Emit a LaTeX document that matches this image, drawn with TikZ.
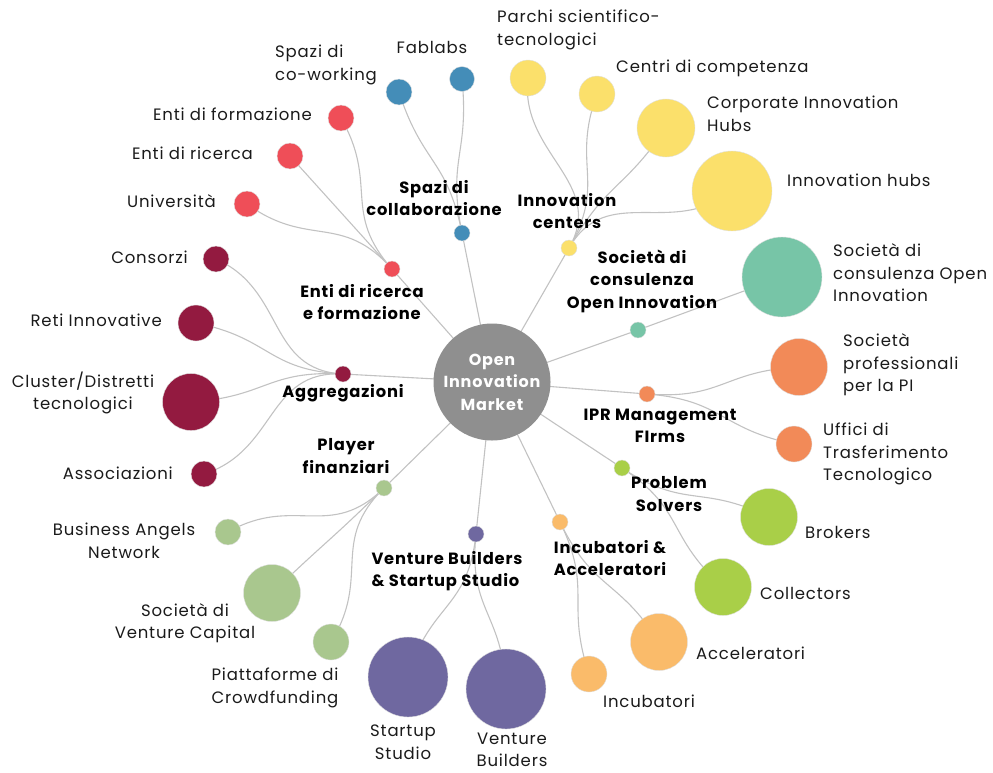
\documentclass[tikz,border=0pt]{standalone}
\usepackage{fontspec}
\setmainfont{Poppins}[LetterSpace=5]
\usetikzlibrary{calc}
\pgfdeclarelayer{bg}
\pgfsetlayers{bg,main}
\definecolor{cblue}{HTML}{448DB8}
\definecolor{cyellow}{HTML}{FBE06B}
\definecolor{cred}{HTML}{EF4E58}
\definecolor{cdred}{HTML}{931A40}
\definecolor{cteal}{HTML}{77C5A7}
\definecolor{corange}{HTML}{F28A58}
\definecolor{cgreen}{HTML}{A9CF48}
\definecolor{clorange}{HTML}{FABB6A}
\definecolor{cpurple}{HTML}{6F68A0}
\definecolor{clgreen}{HTML}{A9C78E}
\definecolor{cgray}{HTML}{8F8F8F}
\definecolor{ctext}{HTML}{1A1A1A}
\tikzset{
  dot/.style={circle, inner sep=0pt, minimum size=#1pt, draw=black!12, line width=0.4pt},
  lbl/.style={font=\fontsize{16.5}{22.5}\selectfont, inner sep=0pt, text=ctext},
  hlbl/.style={font=\bfseries\fontsize{16.3}{22.5}\selectfont, inner sep=0pt, text=black, align=center},
  link/.style={draw=black!24, line width=1.1pt}
}
\newcommand\lnk[2]{%
  \path[link] let \p1=($(#1.center)-(C.center)$), \p2=($(#2.center)-(C.center)$),
    \n1={veclen(\x1,\y1)}, \n2={veclen(\x2,\y2)},
    \n3={scalar((\n1+\n2)/(2*\n1))}, \n4={scalar((\n1+\n2)/(2*\n2))} in
    (#1.center) .. controls ($(C.center)!\n3!(#1.center)$) and ($(C.center)!\n4!(#2.center)$) .. (#2.center);}
\newcommand\spk[1]{\path[link] (C.center) -- (#1.center);}
\begin{document}
\begin{tikzpicture}[x=1pt,y=-1pt]
\useasboundingbox (0,0) rectangle (993,772);
% centre
\node[circle, fill=cgray, minimum size=117pt, inner sep=0pt, text=white, align=center,
  font=\bfseries\fontsize{16}{22.5}\selectfont] (C) at (492,382) {Open\\Innovation\\Market};
% hubs
\node[dot=16, fill=cblue] (hSpazi) at (462,233) {};
\node[dot=16, fill=cyellow] (hInnov) at (569,248) {};
\node[dot=16, fill=cred] (hEnti) at (392,269) {};
\node[dot=16, fill=cteal] (hCons) at (638,330) {};
\node[dot=16, fill=corange] (hIPR) at (647,394) {};
\node[dot=16, fill=cdred] (hAggr) at (343,374) {};
\node[dot=16, fill=clgreen] (hPlayer) at (384,488) {};
\node[dot=16, fill=cgreen] (hProb) at (622,468) {};
\node[dot=16, fill=clorange] (hIncub) at (560,522) {};
\node[dot=16, fill=cpurple] (hVB) at (476,534) {};
% leaves
\node[dot=26, fill=cblue] (lCowork) at (399,92) {};
\node[dot=25, fill=cblue] (lFab) at (462,79) {};
\node[dot=36, fill=cyellow] (lParchi) at (528,78) {};
\node[dot=36, fill=cyellow] (lCentri) at (597,94) {};
\node[dot=58, fill=cyellow] (lCorp) at (666,128) {};
\node[dot=80, fill=cyellow] (lIhubs) at (732,191) {};
\node[dot=80, fill=cteal] (lSoc) at (782,277) {};
\node[dot=57, fill=corange] (lProf) at (799,367) {};
\node[dot=36, fill=corange] (lUffici) at (794,444) {};
\node[dot=57, fill=cgreen] (lBrok) at (769,517) {};
\node[dot=57, fill=cgreen] (lColl) at (723,587) {};
\node[dot=57, fill=clorange] (lAcc) at (659,642) {};
\node[dot=36, fill=clorange] (lInc) at (589,674) {};
\node[dot=80, fill=cpurple] (lVBl) at (506,689) {};
\node[dot=80, fill=cpurple] (lSS) at (408,677) {};
\node[dot=26, fill=clgreen] (lBAN) at (228,532) {};
\node[dot=57, fill=clgreen] (lVC) at (272,593) {};
\node[dot=36, fill=clgreen] (lCrowd) at (331,642) {};
\node[dot=26, fill=cdred] (lConsorzi) at (216,259) {};
\node[dot=36, fill=cdred] (lReti) at (196,323) {};
\node[dot=57, fill=cdred] (lCluster) at (191,402) {};
\node[dot=26, fill=cdred] (lAssoc) at (204,474) {};
\node[dot=26, fill=cred] (lForm) at (341,118) {};
\node[dot=26, fill=cred] (lRic) at (290,156) {};
\node[dot=26, fill=cred] (lUni) at (247,204) {};
% links
\begin{pgfonlayer}{bg}
\spk{hSpazi}\spk{hInnov}\spk{hEnti}\spk{hCons}\spk{hIPR}
\spk{hAggr}\spk{hPlayer}\spk{hProb}\spk{hIncub}\spk{hVB}
\lnk{hSpazi}{lCowork}\lnk{hSpazi}{lFab}
\lnk{hInnov}{lParchi}\lnk{hInnov}{lCentri}\lnk{hInnov}{lCorp}\lnk{hInnov}{lIhubs}
\lnk{hCons}{lSoc}
\lnk{hIPR}{lProf}\lnk{hIPR}{lUffici}
\lnk{hProb}{lBrok}\lnk{hProb}{lColl}
\lnk{hIncub}{lAcc}\lnk{hIncub}{lInc}
\lnk{hVB}{lVBl}\lnk{hVB}{lSS}
\lnk{hPlayer}{lBAN}\lnk{hPlayer}{lVC}\lnk{hPlayer}{lCrowd}
\lnk{hAggr}{lConsorzi}\lnk{hAggr}{lReti}\lnk{hAggr}{lCluster}\lnk{hAggr}{lAssoc}
\lnk{hEnti}{lForm}\lnk{hEnti}{lRic}\lnk{hEnti}{lUni}
\end{pgfonlayer}
% leaf labels
\node[lbl, anchor=west, align=left] (tCowork) at (275,65) {Spazi di\\co-working};
\node[lbl] (tFab) at (432,47) {Fablabs};
\node[lbl, anchor=west, align=left] (tParchi) at (497,30) {Parchi scientifico-\\tecnologici};
\node[lbl, anchor=west] (tCentri) at (616,68) {Centri di competenza};
\node[lbl, anchor=west, align=left] (tCorp) at (707,114) {Corporate Innovation\\Hubs};
\node[lbl, anchor=west] (tIhubs) at (787,180) {Innovation hubs};
\node[lbl, anchor=west, align=left] (tSoc) at (833,273) {Società di\\consulenza Open\\Innovation};
\node[lbl, anchor=west, align=left] (tProf) at (843,365) {Società\\professionali\\per la PI};
\node[lbl, anchor=west, align=left] (tUffici) at (823,454) {Uffici di\\Trasferimento\\Tecnologico};
\node[lbl, anchor=west] (tBrok) at (805,532) {Brokers};
\node[lbl, anchor=west] (tColl) at (760,593) {Collectors};
\node[lbl, anchor=west] (tAcc) at (696,653) {Acceleratori};
\node[lbl, anchor=west] (tInc) at (603,701) {Incubatori};
\node[lbl, align=center] (tSS) at (403,742) {Startup\\Studio};
\node[lbl, align=center] (tVBl) at (512,750) {Venture\\Builders};
\node[lbl, align=center] (tBAN) at (124,541) {Business Angels\\Network};
\node[lbl, align=center] (tVC) at (185,623) {Società di\\Venture Capital};
\node[lbl, align=center] (tCrowd) at (275,688) {Piattaforme di\\Crowdfunding};
\node[lbl, anchor=east] (tConsorzi) at (188,257) {Consorzi};
\node[lbl, anchor=east] (tReti) at (162,320) {Reti Innovative};
\node[lbl, align=center] (tCluster) at (83,393) {Cluster/Distretti\\tecnologici};
\node[lbl, anchor=east] (tAssoc) at (173,473) {Associazioni};
\node[lbl, anchor=east] (tForm) at (312,114) {Enti di formazione};
\node[lbl, anchor=east] (tRic) at (253,153) {Enti di ricerca};
\node[lbl, anchor=east] (tUni) at (216,201) {Università};
% hub labels
\node[hlbl] (tHSpazi) at (434,198) {Spazi di\\collaborazione};
\node[hlbl] (tHInnov) at (567,211) {Innovation\\centers};
\node[hlbl] (tHEnti) at (362,302) {Enti di ricerca\\e formazione};
\node[hlbl] (tHAggr) at (343,393) {Aggregazioni};
\node[hlbl] (tHPlayer) at (346,456) {Player\\finanziari};
\node[hlbl] (tHCons) at (642,281) {Società di\\consulenza\\Open Innovation};
\node[hlbl] (tHIPR) at (660,426) {IPR Management\\FIrms};
\node[hlbl] (tHProb) at (669,494) {Problem\\Solvers};
\node[hlbl] (tHIncub) at (610,558) {Incubatori \&\\Acceleratori};
\node[hlbl, align=left] (tHVB) at (447,571) {Venture Builders\\\& Startup Studio};
\end{tikzpicture}
\end{document}
